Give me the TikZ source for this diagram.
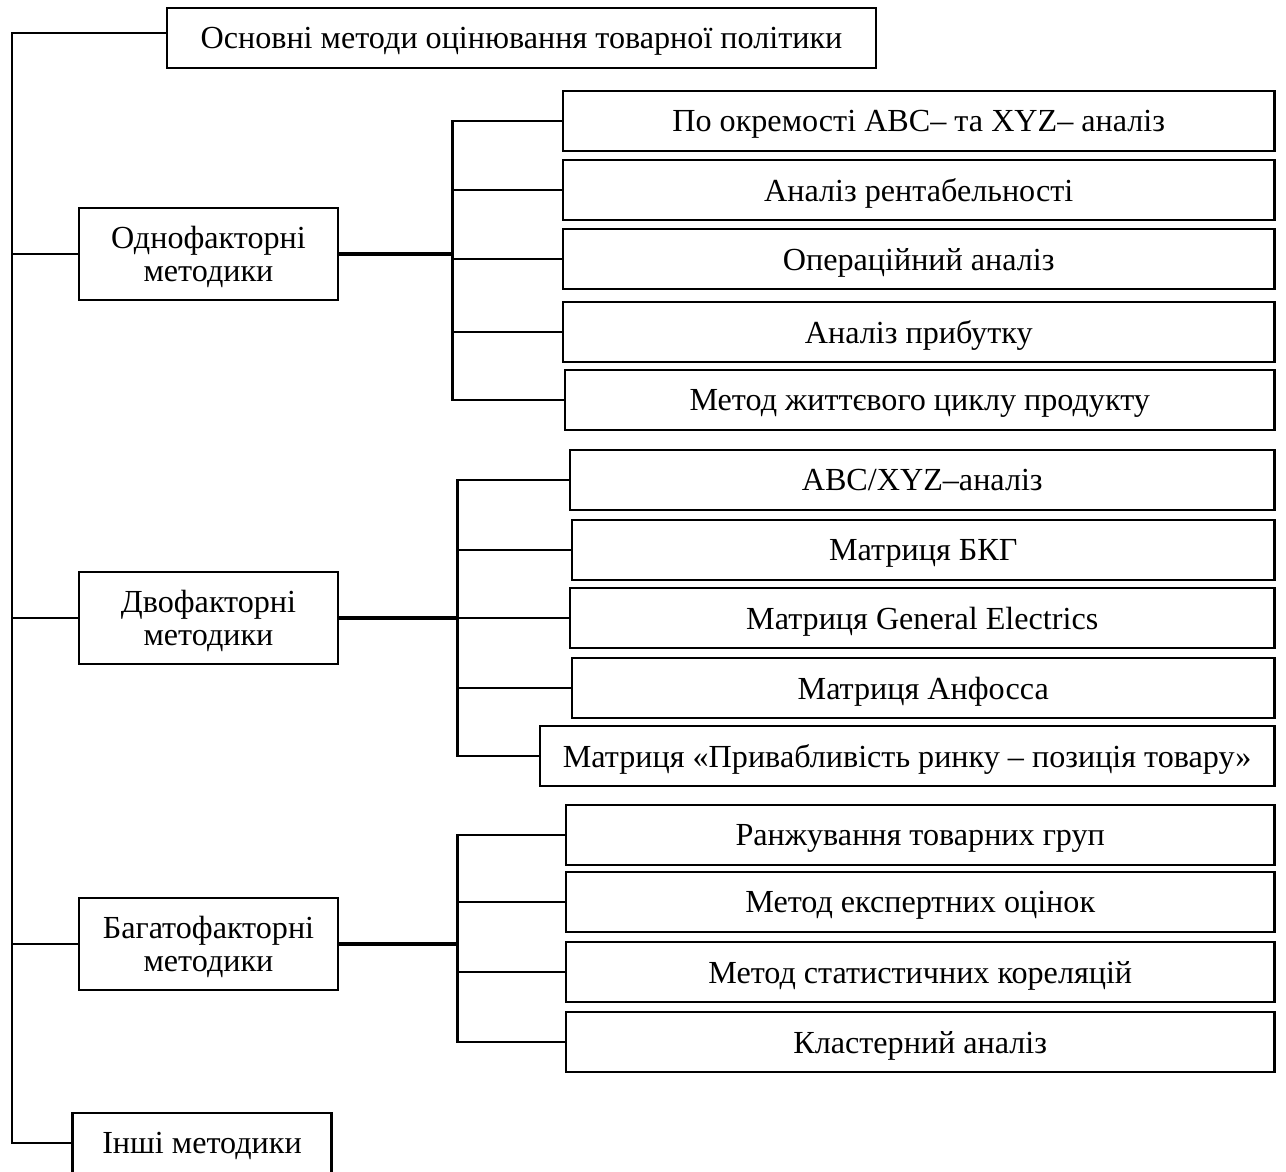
\documentclass[tikz,border=0pt]{standalone}
\usepackage{fontspec}
\setmainfont{Liberation Serif}
\begin{document}
\begin{tikzpicture}[x=0.02cm,y=-0.02cm,
    box/.style={draw,line width=1.5pt,align=center,inner sep=2pt,text depth=0pt,
                font=\fontsize{18.3}{18.8}\selectfont},
    grp/.style={box,minimum width=5.18cm,minimum height=1.84cm},
    leaf/.style={box,anchor=east,minimum width=14.2cm,minimum height=1.2cm},
    link/.style={line width=1.5pt}]
  \useasboundingbox (0,0) rectangle (1286,1171);
  \clip (0,0) rectangle (1286,1171);

  % Title and the four groups of methods
  \node[box,minimum width=14.18cm,minimum height=1.2cm] (title) at (521.5,38) {Основні методи оцінювання товарної політики};
  \node[grp] (odno) at (208.5,254) {Однофакторні\\методики};
  \node[grp] (dvo) at (208.5,618) {Двофакторні\\методики};
  \node[grp] (baha) at (208.5,944) {Багатофакторні\\методики};
  \node[box,minimum width=5.18cm,minimum height=1.2cm] (inshi) at (202,1143) {Інші методики};

  % One-factor methods
  \node[leaf,minimum width=14.24cm] (g1a) at (1276,121) {По окремості ABC– та XYZ– аналіз};
  \node[leaf,minimum width=14.24cm] (g1b) at (1276,190) {Аналіз рентабельності};
  \node[leaf,minimum width=14.24cm] (g1c) at (1276,259) {Операційний аналіз};
  \node[leaf,minimum width=14.24cm] (g1d) at (1276,332) {Аналіз прибутку};
  \node[leaf,minimum width=14.2cm] (g1e) at (1276,400) {Метод життєвого циклу продукту};

  % Two-factor methods
  \node[leaf,minimum width=14.1cm] (g2a) at (1276,480) {ABC/XYZ–аналіз};
  \node[leaf,minimum width=14.06cm] (g2b) at (1276,550) {Матриця БКГ};
  \node[leaf,minimum width=14.1cm] (g2c) at (1276,618) {Матриця General Electrics};
  \node[leaf,minimum width=14.06cm] (g2d) at (1276,688) {Матриця Анфосса};
  \node[leaf,minimum width=14.7cm] (g2e) at (1276,756) {Матриця «Привабливість ринку – позиція товару»};

  % Multi-factor methods
  \node[leaf,minimum width=14.18cm] (g3a) at (1276,835) {Ранжування товарних груп};
  \node[leaf,minimum width=14.18cm] (g3b) at (1276,902) {Метод експертних оцінок};
  \node[leaf,minimum width=14.18cm] (g3c) at (1276,972) {Метод статистичних кореляцій};
  \node[leaf,minimum width=14.18cm] (g3d) at (1276,1042) {Кластерний аналіз};

  % Left spine
  \coordinate (s0) at (12,33);
  \coordinate (s1) at (12,1143);
  \draw[link] (title.west |- s0) -- (s0) -- (s1) -- (inshi.west);
  \foreach \n in {odno,dvo,baha}
    \draw[link] (\n.west) -- (\n.west -| s0);

  % Forks to the methods
  \path (odno.east) ++(113,0) coordinate (f1);
  \path (dvo.east) ++(118,0) coordinate (f2);
  \path (baha.east) ++(118,0) coordinate (f3);
  \draw[link,line width=1.8pt] (odno.east) -- (f1);
  \draw[link,line width=1.8pt] (dvo.east) -- (f2);
  \draw[link,line width=1.8pt] (baha.east) -- (f3);
  \foreach \n in {g1a,g1b,g1c,g1d,g1e}
    \draw[link] (\n.west) -| (f1);
  \foreach \n in {g2a,g2b,g2c,g2d,g2e}
    \draw[link] (\n.west) -| (f2);
  \foreach \n in {g3a,g3b,g3c,g3d}
    \draw[link] (\n.west) -| (f3);
\end{tikzpicture}
\end{document}
